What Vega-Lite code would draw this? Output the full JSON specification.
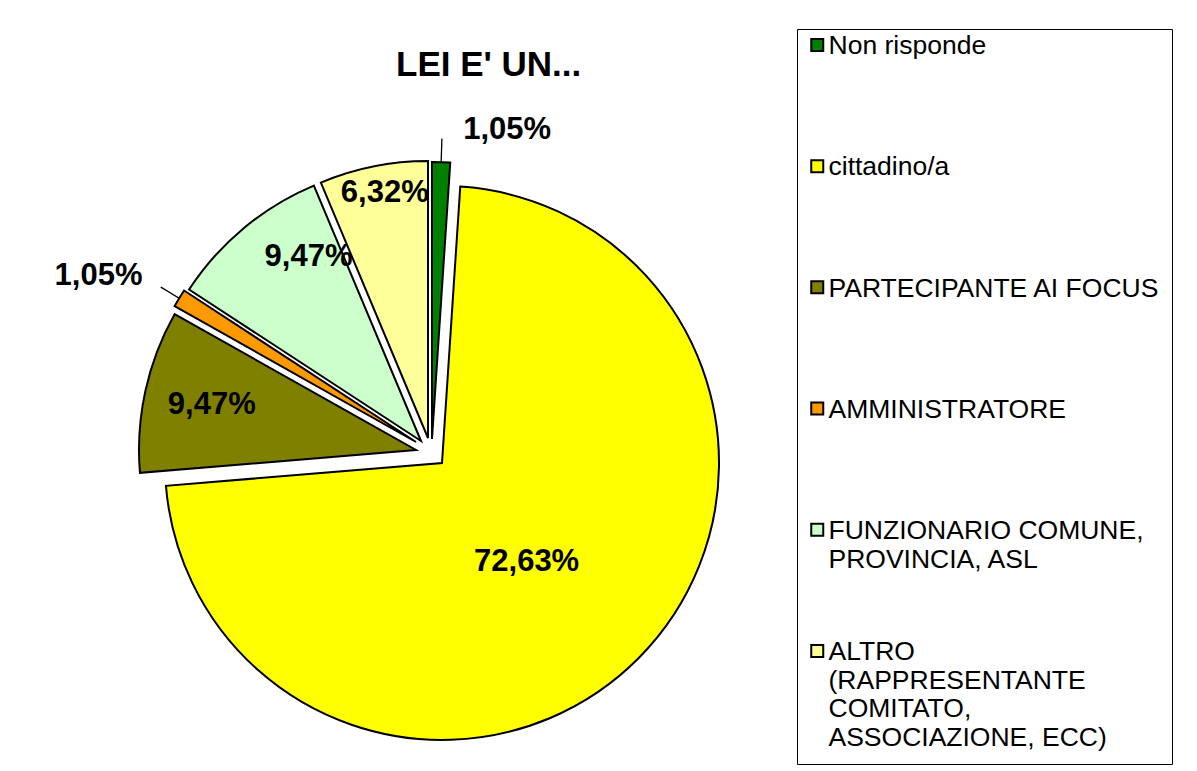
{
  "$schema": "https://vega.github.io/schema/vega-lite/v6.json",
  "width": 860,
  "height": 650,
  "autosize": {"type": "none"},
  "padding": {"left": 0, "top": 121, "right": 337, "bottom": 0},
  "background": "white",
  "config": {
    "view": {"stroke": null},
    "font": "Liberation Sans",
    "locale": {"number": {"decimal": ",", "thousands": ".", "grouping": [3], "currency": ["", " €"], "percent": "%"}}
  },
  "title": {"text": "LEI E' UN...", "font": "Liberation Sans", "fontSize": 35, "fontWeight": "bold", "color": "#000", "anchor": "start", "frame": "group", "baseline": "alphabetic", "dx": 396, "offset": 0, "dy": 82},
  "data": {"values": [
    {"cat": "Non risponde", "share": 0.0105, "order": 1},
    {"cat": "cittadino/a", "share": 0.7263, "order": 2},
    {"cat": "PARTECIPANTE AI FOCUS", "share": 0.0947, "order": 3},
    {"cat": "AMMINISTRATORE", "share": 0.0105, "order": 4},
    {"cat": "FUNZIONARIO COMUNE, PROVINCIA, ASL", "share": 0.0947, "order": 5},
    {"cat": "ALTRO (RAPPRESENTANTE COMITATO, ASSOCIAZIONE, ECC)", "share": 0.0632, "order": 6}
  ]},
  "transform": [{"stack": "share", "groupby": [], "sort": [{"field": "order", "order": "ascending"}], "as": ["t0", "t1"]}],
  "layer": [
    {"transform": [{"filter": "datum.cat === 'Non risponde'"}],
     "mark": {"type": "arc", "outerRadius": 277, "xOffset": 2, "yOffset": -7, "stroke": "#000", "strokeWidth": 2},
     "encoding": {"theta": {"field": "t0", "type": "quantitative"}, "theta2": {"field": "t1"},
       "color": {"field": "cat", "type": "nominal",
         "scale": {"domain": ["Non risponde", "cittadino/a", "PARTECIPANTE AI FOCUS", "AMMINISTRATORE", "FUNZIONARIO COMUNE, PROVINCIA, ASL", "ALTRO (RAPPRESENTANTE COMITATO, ASSOCIAZIONE, ECC)"], "range": ["#008000", "#FFFF00", "#808000", "#FF9900", "#CCFFCC", "#FFFF99"]},
         "legend": {"orient": "none", "legendX": 797, "legendY": -92, "title": null, "strokeColor": "#000", "padding": 12, "gridAlign": "all", "rowPadding": 8.2,
           "symbolType": "M-1,-2.55H1V-0.55H-1Z", "symbolSize": 144, "symbolStrokeColor": "#000", "symbolStrokeWidth": 2, "symbolOpacity": 1, "symbolOffset": -5,
           "labelFont": "Liberation Sans", "labelFontSize": 26.5, "labelColor": "#000", "labelLimit": 600, "labelOffset": -2, "labelBaseline": "alphabetic",
           "labelExpr": "datum.label === 'FUNZIONARIO COMUNE, PROVINCIA, ASL' ? ['FUNZIONARIO COMUNE,', 'PROVINCIA, ASL'] : datum.label === 'ALTRO (RAPPRESENTANTE COMITATO, ASSOCIAZIONE, ECC)' ? ['ALTRO', '(RAPPRESENTANTE', 'COMITATO,', 'ASSOCIAZIONE, ECC)'] : datum.label"}}}},
    {"transform": [{"filter": "datum.cat === 'cittadino/a'"}],
     "mark": {"type": "arc", "outerRadius": 277, "xOffset": 12, "yOffset": 17, "stroke": "#000", "strokeWidth": 2},
     "encoding": {"theta": {"field": "t0", "type": "quantitative"}, "theta2": {"field": "t1"}, "color": {"field": "cat", "type": "nominal"}}},
    {"transform": [{"filter": "datum.cat === 'PARTECIPANTE AI FOCUS'"}],
     "mark": {"type": "arc", "outerRadius": 277, "xOffset": -14, "yOffset": 4, "stroke": "#000", "strokeWidth": 2},
     "encoding": {"theta": {"field": "t0", "type": "quantitative"}, "theta2": {"field": "t1"}, "color": {"field": "cat", "type": "nominal"}}},
    {"transform": [{"filter": "datum.cat === 'AMMINISTRATORE'"}],
     "mark": {"type": "arc", "outerRadius": 277, "xOffset": -14, "yOffset": -4, "stroke": "#000", "strokeWidth": 2},
     "encoding": {"theta": {"field": "t0", "type": "quantitative"}, "theta2": {"field": "t1"}, "color": {"field": "cat", "type": "nominal"}}},
    {"transform": [{"filter": "datum.cat === 'FUNZIONARIO COMUNE, PROVINCIA, ASL'"}],
     "mark": {"type": "arc", "outerRadius": 277, "xOffset": -9, "yOffset": -5, "stroke": "#000", "strokeWidth": 2},
     "encoding": {"theta": {"field": "t0", "type": "quantitative"}, "theta2": {"field": "t1"}, "color": {"field": "cat", "type": "nominal"}}},
    {"transform": [{"filter": "datum.cat === 'ALTRO (RAPPRESENTANTE COMITATO, ASSOCIAZIONE, ECC)'"}],
     "mark": {"type": "arc", "outerRadius": 277, "xOffset": -2, "yOffset": -8, "stroke": "#000", "strokeWidth": 2},
     "encoding": {"theta": {"field": "t0", "type": "quantitative"}, "theta2": {"field": "t1"}, "color": {"field": "cat", "type": "nominal"}}},
    {"transform": [{"filter": "datum.cat === 'Non risponde'"}],
     "mark": {"type": "arc", "innerRadius": 278, "outerRadius": 300, "thetaOffset": 0.033, "theta2Offset": -0.033, "xOffset": 2, "yOffset": -7, "filled": false, "stroke": "#000", "strokeWidth": 1.3},
     "encoding": {"theta": {"field": "t0", "type": "quantitative"}, "theta2": {"field": "t1"}}},
    {"transform": [{"filter": "datum.cat === 'AMMINISTRATORE'"}],
     "mark": {"type": "arc", "innerRadius": 278, "outerRadius": 298, "thetaOffset": 0.033, "theta2Offset": -0.033, "xOffset": -14, "yOffset": -4, "filled": false, "stroke": "#000", "strokeWidth": 1.3},
     "encoding": {"theta": {"field": "t0", "type": "quantitative"}, "theta2": {"field": "t1"}}},
    {"mark": {"type": "text", "radius": 130, "thetaOffset": 0.085, "xOffset": 12, "yOffset": 17, "fontSize": 31, "fontWeight": "bold", "color": "#000"},
     "encoding": {"theta": {"field": "share", "type": "quantitative", "stack": true}, "order": {"field": "order", "type": "quantitative"}, "detail": {"field": "cat", "type": "nominal"},
       "text": {"condition": {"test": "datum.cat === 'cittadino/a'", "field": "share", "type": "quantitative", "format": ".2%"}, "value": ""}}},
    {"mark": {"type": "text", "radius": 209, "xOffset": -14, "yOffset": 4, "fontSize": 31, "fontWeight": "bold", "color": "#000"},
     "encoding": {"theta": {"field": "share", "type": "quantitative", "stack": true}, "order": {"field": "order", "type": "quantitative"}, "detail": {"field": "cat", "type": "nominal"},
       "text": {"condition": {"test": "datum.cat === 'PARTECIPANTE AI FOCUS'", "field": "share", "type": "quantitative", "format": ".2%"}, "value": ""}}},
    {"mark": {"type": "text", "radius": 216, "thetaOffset": 0.147, "xOffset": -9, "yOffset": -5, "fontSize": 31, "fontWeight": "bold", "color": "#000"},
     "encoding": {"theta": {"field": "share", "type": "quantitative", "stack": true}, "order": {"field": "order", "type": "quantitative"}, "detail": {"field": "cat", "type": "nominal"},
       "text": {"condition": {"test": "datum.cat === 'FUNZIONARIO COMUNE, PROVINCIA, ASL'", "field": "share", "type": "quantitative", "format": ".2%"}, "value": ""}}},
    {"mark": {"type": "text", "radius": 249, "thetaOffset": 0.024, "xOffset": -2, "yOffset": -8, "fontSize": 31, "fontWeight": "bold", "color": "#000"},
     "encoding": {"theta": {"field": "share", "type": "quantitative", "stack": true}, "order": {"field": "order", "type": "quantitative"}, "detail": {"field": "cat", "type": "nominal"},
       "text": {"condition": {"test": "datum.cat === 'ALTRO (RAPPRESENTANTE COMITATO, ASSOCIAZIONE, ECC)'", "field": "share", "type": "quantitative", "format": ".2%"}, "value": ""}}},
    {"mark": {"type": "text", "radius": 309, "xOffset": 2, "yOffset": -7, "align": "left", "dx": 21, "fontSize": 31, "fontWeight": "bold", "color": "#000"},
     "encoding": {"theta": {"field": "share", "type": "quantitative", "stack": true}, "order": {"field": "order", "type": "quantitative"}, "detail": {"field": "cat", "type": "nominal"},
       "text": {"condition": {"test": "datum.cat === 'Non risponde'", "field": "share", "type": "quantitative", "format": ".2%"}, "value": ""}}},
    {"mark": {"type": "text", "radius": 320, "xOffset": -14, "yOffset": -4, "align": "right", "fontSize": 31, "fontWeight": "bold", "color": "#000"},
     "encoding": {"theta": {"field": "share", "type": "quantitative", "stack": true}, "order": {"field": "order", "type": "quantitative"}, "detail": {"field": "cat", "type": "nominal"},
       "text": {"condition": {"test": "datum.cat === 'AMMINISTRATORE'", "field": "share", "type": "quantitative", "format": ".2%"}, "value": ""}}}
  ]
}
